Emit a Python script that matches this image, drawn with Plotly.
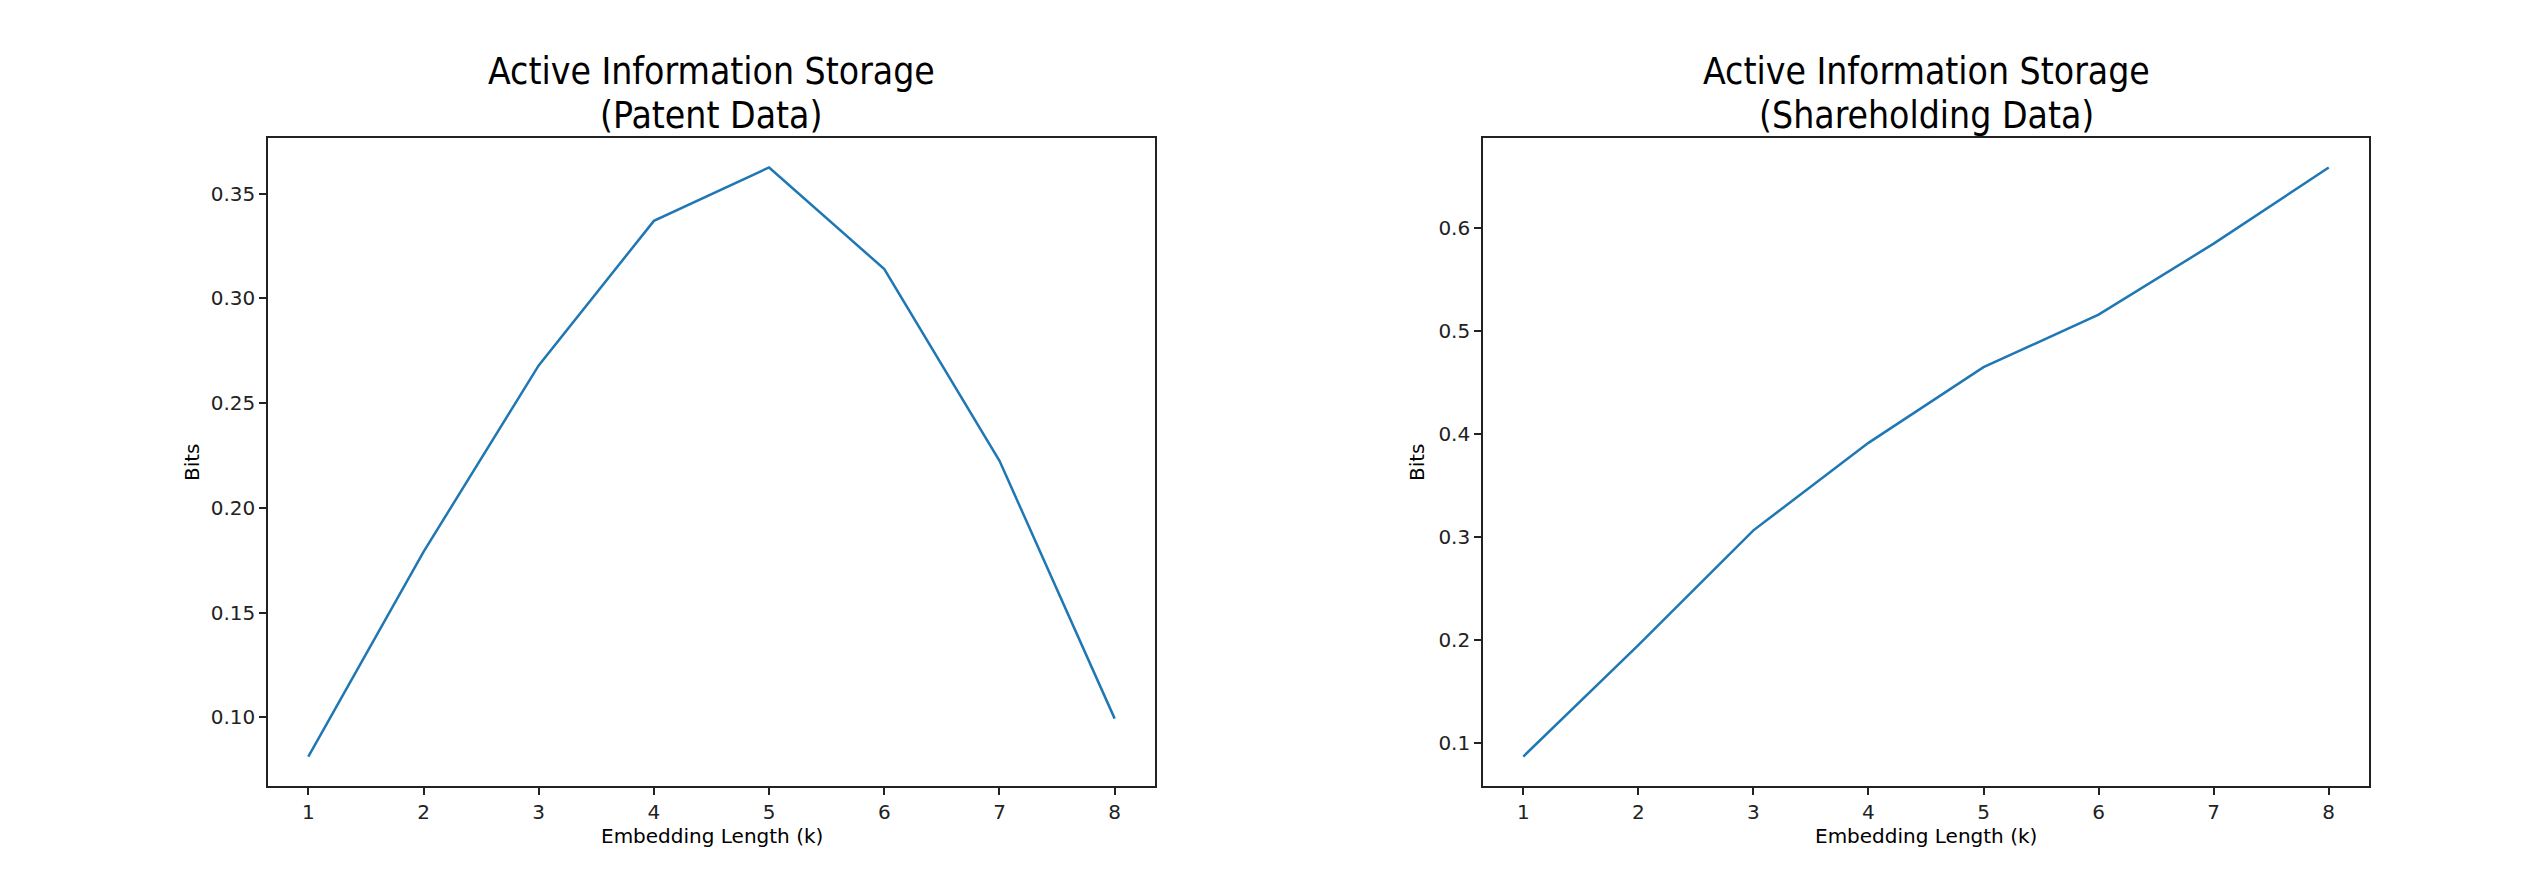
import plotly.graph_objects as go
from plotly.subplots import make_subplots

k = [1, 2, 3, 4, 5, 6, 7, 8]
patent_bits = [0.0813, 0.179, 0.268, 0.337, 0.3625, 0.314, 0.2225, 0.0994]
share_bits = [0.0868, 0.195, 0.3065, 0.3915, 0.465, 0.516, 0.585, 0.659]

title_top = "Active Information Storage"
subtitles = ["(Patent Data)", "(Shareholding Data)"]

# page has an 8px body margin, so the canvas is a bit smaller than the window
OFF = 8
W, H = 2534 - 2 * OFF, 890 - 2 * OFF

def px_x(p):
    return (p - OFF) / W

def px_y(p):
    return (H - (p - OFF)) / H

fig = make_subplots(rows=1, cols=2)

fig.add_trace(go.Scatter(x=k, y=patent_bits, mode="lines",
                         line=dict(color="#1f77b4", width=2.5)), row=1, col=1)
fig.add_trace(go.Scatter(x=k, y=share_bits, mode="lines",
                         line=dict(color="#1f77b4", width=2.5)), row=1, col=2)

def pad(vals):
    lo, hi = min(vals), max(vals)
    s = hi - lo
    return [lo - 0.05 * s, hi + 0.05 * s]

axis_style = dict(showline=True, mirror=True, linecolor="#222", linewidth=1.6,
                  ticks="outside", ticklen=7, tickwidth=1.6, tickcolor="#222",
                  showgrid=False, zeroline=False,
                  tickfont=dict(family="DejaVu Sans", size=20, color="#222"))

ydom = [px_y(786), px_y(138)]
fig.update_xaxes(domain=[px_x(268), px_x(1155)], range=pad(k), tickvals=k, row=1, col=1, **axis_style)
fig.update_xaxes(domain=[px_x(1483), px_x(2369)], range=pad(k), tickvals=k, row=1, col=2, **axis_style)
fig.update_yaxes(domain=ydom, range=pad(patent_bits), dtick=0.05, tickformat=".2f",
                 row=1, col=1, **axis_style)
fig.update_yaxes(domain=ydom, range=pad(share_bits), dtick=0.1, tickformat=".1f",
                 row=1, col=2, **axis_style)

title_font = dict(family="Liberation Sans Narrow, DejaVu Sans Condensed, DejaVu Sans",
                  size=37, color="#000")
lab_font = dict(family="DejaVu Sans", size=20, color="#000")

ann = []
for i, sub in enumerate(subtitles):
    xr = "x domain" if i == 0 else "x2 domain"
    yr = "y domain" if i == 0 else "y2 domain"
    ann.append(dict(text=title_top, xref=xr, yref="paper", x=0.5, y=px_y(72),
                    yanchor="middle", showarrow=False, font=title_font))
    ann.append(dict(text=sub, xref=xr, yref="paper", x=0.5, y=px_y(115),
                    yanchor="middle", showarrow=False, font=title_font))
    ann.append(dict(text="Embedding Length (k)", xref=xr, yref=yr, x=0.5, y=0,
                    yanchor="middle", yshift=-50, showarrow=False, font=lab_font))
    ann.append(dict(text="Bits", xref=xr, yref=yr, x=0, y=0.5, textangle=-90,
                    xanchor="center", xshift=-76 if i == 0 else -66, showarrow=False,
                    font=lab_font))

fig.update_layout(width=W, height=H, margin=dict(l=0, r=0, t=0, b=0),
                  paper_bgcolor="white", plot_bgcolor="white",
                  showlegend=False, annotations=ann)

fig.write_html("out.html")
